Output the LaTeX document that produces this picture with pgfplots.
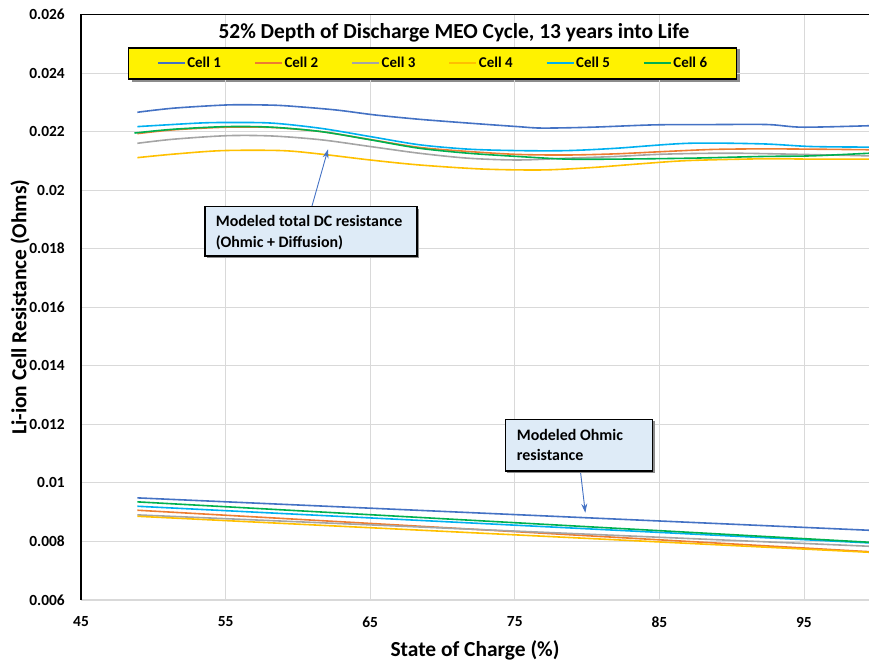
\documentclass[border=0pt]{standalone}
\usepackage{pgfplots}
\pgfplotsset{compat=1.18}
\usepackage{fontspec}
\setmainfont{Carlito}
\usetikzlibrary{arrows.meta}
\definecolor{c1}{HTML}{4472C4}
\definecolor{c2}{HTML}{ED7D31}
\definecolor{c3}{HTML}{A5A5A5}
\definecolor{c4}{HTML}{FFC000}
\definecolor{c5}{HTML}{00B0F0}
\definecolor{c6}{HTML}{00B050}
\definecolor{boxfill}{HTML}{DEEBF7}
\definecolor{gridc}{HTML}{D9D9D9}
\newcommand{\limg}[1]{\textcolor{#1}{\rule[3.8bp]{27bp}{1.7bp}}\hspace{2.5bp}}
\begin{document}
\begin{tikzpicture}[x=1bp,y=1bp]
\path[use as bounding box] (0,0) rectangle (869,660);
% legend shadow
\fill[black!45] (132,578) rectangle (740,611);
\begin{axis}[
  at={(81bp,60bp)}, anchor=south west,
  scale only axis, width=788bp, height=585.5bp,
  xmin=45, xmax=99.5, ymin=0.006, ymax=0.026,
  xtick={45,55,65,75,85,95}, xticklabels={45,55,65,75,85,95},
  ytick={0.006,0.008,0.010,0.012,0.014,0.016,0.018,0.020,0.022,0.024,0.026},
  yticklabels={0.006,0.008,0.01,0.012,0.014,0.016,0.018,0.02,0.022,0.024,0.026},
  scaled y ticks=false, scaled x ticks=false,
  major tick length=0pt,
  grid=major, major grid style={draw=gridc, line width=0.9bp},
  axis line style={draw=none},
  tick label style={font=\fontsize{15.5}{18}\selectfont\bfseries},
  xticklabel style={anchor=center, yshift=-22bp},
  yticklabel style={anchor=east, inner sep=0pt, xshift=-16bp},
  xlabel={State of Charge (\%)}, ylabel={Li-ion Cell Resistance (Ohms)},
  label style={font=\fontsize{21.5}{25}\selectfont\bfseries},
  xlabel style={at={(axis description cs:0.5,-0.0854)}, anchor=center},
  ylabel style={at={(axis description cs:-0.0774,0.5)}, anchor=center},
  legend columns=6,
  legend image code/.code={},
  legend style={name=leg, at={(rel axis cs:0.446,0.9163)}, anchor=center, fill=yellow,
    draw=none, font=\fontsize{15}{18}\selectfont\bfseries,
    inner xsep=27bp, inner ysep=7.5bp,
    /tikz/every even column/.append style={column sep=30bp}},
  every axis plot/.append style={line width=1.6bp},
]
% total DC resistance
\addplot[c1, smooth] coordinates {(48.9,0.02266) (51.4,0.02280) (55.1,0.02291) (57.5,0.02291) (59.2,0.02288) (62.6,0.02274) (65.3,0.02257) (68.4,0.02242) (71.8,0.02229) (75.2,0.02217) (76.9,0.02212) (80.3,0.02215) (84.7,0.02223) (88.7,0.02224) (92.5,0.02224) (94.9,0.02215) (99.5,0.02220)};
\addlegendentry{\limg{c1}Cell 1}
\addplot[c2, smooth] coordinates {(48.9,0.02193) (51.4,0.02206) (55.1,0.02215) (58.2,0.02214) (61.6,0.02200) (65.0,0.02173) (68.4,0.02146) (71.8,0.02132) (75.2,0.02122) (78.6,0.02120) (82.0,0.02124) (85.4,0.02132) (88.7,0.02139) (92.1,0.02141) (95.5,0.02140) (99.5,0.02138)};
\addlegendentry{\limg{c2}Cell 2}
\addplot[c3, smooth] coordinates {(48.9,0.02160) (51.4,0.02174) (55.1,0.02186) (58.2,0.02185) (61.6,0.02172) (65.0,0.02149) (68.4,0.02126) (71.8,0.02109) (75.2,0.02103) (78.6,0.02109) (82.0,0.02115) (85.4,0.02123) (90.5,0.02126) (99.5,0.02117)};
\addlegendentry{\limg{c3}Cell 3}
\addplot[c4, smooth] coordinates {(48.9,0.02111) (51.4,0.02123) (54.8,0.02135) (58.9,0.02135) (61.6,0.02123) (65.0,0.02103) (68.4,0.02086) (72.8,0.02072) (76.9,0.02069) (80.3,0.02077) (83.7,0.02090) (87.0,0.02101) (92.1,0.02107) (95.5,0.02106) (99.5,0.02106)};
\addlegendentry{\limg{c4}Cell 4}
\addplot[c5, smooth] coordinates {(48.9,0.02217) (53.1,0.02229) (55.1,0.02231) (58.2,0.02229) (61.6,0.02211) (65.0,0.02183) (68.4,0.02155) (71.8,0.02140) (75.2,0.02135) (78.6,0.02135) (82.0,0.02143) (87.0,0.02160) (92.1,0.02158) (95.5,0.02149) (99.5,0.02147)};
\addlegendentry{\limg{c5}Cell 5}
\addplot[c6, smooth] coordinates {(48.7,0.02195) (51.4,0.02208) (55.1,0.02217) (58.2,0.02215) (61.6,0.02200) (65.0,0.02172) (68.4,0.02143) (71.8,0.02126) (75.2,0.02115) (78.6,0.02106) (82.0,0.02106) (87.0,0.02109) (92.1,0.02115) (95.5,0.02117) (99.5,0.02126)};
\addlegendentry{\limg{c6}Cell 6}
% ohmic resistance
\addplot[c1, forget plot] coordinates {(48.9,0.009488) (99.5,0.008382)};
\addplot[c2, forget plot] coordinates {(48.9,0.009066) (99.5,0.00765)};
\addplot[c3, forget plot] coordinates {(48.9,0.008907) (99.5,0.007836)};
\addplot[c4, forget plot] coordinates {(48.9,0.008860) (99.5,0.007631)};
\addplot[c5, forget plot] coordinates {(48.9,0.009202) (99.5,0.00795)};
\addplot[c6, forget plot] coordinates {(48.9,0.009352) (99.5,0.007973)};
\end{axis}
\draw[black, line width=1.5bp] (leg.south west) rectangle (leg.north east);
% plot area border: left and top black, bottom light gray
\draw[gridc, line width=1bp] (81,60) -- (869,60);
\draw[black, line width=1.1bp] (81,60) -- (81,645.5) -- (869,645.5);
% title
\node[font=\fontsize{21.5}{25}\selectfont\bfseries] at (454,627) {52\% Depth of Discharge MEO Cycle, 13 years into Life};
% annotation 1
\draw[c1, line width=0.9bp, -{Stealth[length=9bp,width=6bp]}] (311.8,453.3) -- (328,510.7);
\fill[black!45] (207,402) rectangle (419,451.3);
\filldraw[fill=boxfill, draw=black, line width=1.5bp] (205,404) rectangle (417,453.3);
\node[anchor=west, align=left, font=\fontsize{16}{20.6}\selectfont\bfseries, inner sep=0pt] at (215.7,427.5) {Modeled total DC resistance\\(Ohmic + Diffusion)};
% annotation 2
\draw[c1, line width=0.9bp, -{Stealth[length=9bp,width=6bp]}] (580.4,189) -- (585.3,147.3);
\fill[black!45] (507.4,187) rectangle (654.5,238.7);
\filldraw[fill=boxfill, draw=black, line width=1.5bp] (505.4,189) rectangle (652.5,240.7);
\node[anchor=west, align=left, font=\fontsize{16}{20.6}\selectfont\bfseries, inner sep=0pt] at (516.7,215) {Modeled Ohmic\\resistance};
\end{tikzpicture}
\end{document}
